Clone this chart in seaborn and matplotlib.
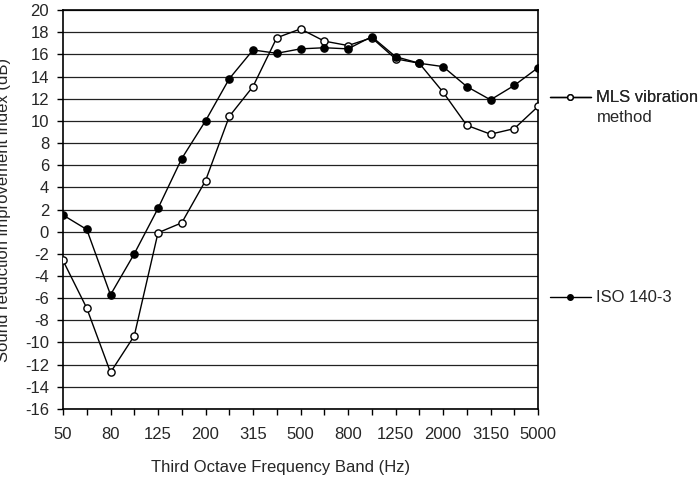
import numpy as np
import pandas as pd
import matplotlib
matplotlib.use("Agg")
import matplotlib.pyplot as plt
import seaborn as sns
from matplotlib.lines import Line2D

bands = ["50", "63", "80", "100", "125", "160", "200", "250", "315", "400", "500",
         "630", "800", "1000", "1250", "1600", "2000", "2500", "3150", "4000", "5000"]
mls = [-2.6, -6.9, -12.7, -9.4, -0.1, 0.8, 4.6, 10.4, 13.1, 17.5, 18.3,
       17.2, 16.8, 17.5, 15.6, 15.2, 12.6, 9.6, 8.8, 9.3, 11.3]
iso = [1.5, 0.2, -5.7, -2.0, 2.1, 6.6, 10.0, 13.8, 16.4, 16.1, 16.5,
       16.6, 16.5, 17.6, 15.8, 15.2, 14.9, 13.1, 11.9, 13.2, 14.8]
series_names = ["MLS vibration\nmethod", "ISO 140-3"]
yticks = list(range(-16, 21, 2))

sns.set_theme(style="white")
plt.rcParams["font.family"] = ["Liberation Sans", "DejaVu Sans"]
FS = 12

pos = np.arange(len(bands))
df = pd.DataFrame({
    "pos": np.concatenate([pos, pos]),
    "value": mls + iso,
    "series": [series_names[0]] * len(bands) + [series_names[1]] * len(bands),
})

fig = plt.figure(figsize=(7, 4.8), dpi=100)
ax = fig.add_axes([0.09, 0.148, 0.6786, 0.831])

for y in yticks:
    ax.axhline(y, color="#222222", lw=0.9, zorder=0)

sns.lineplot(data=df[df.series == series_names[0]], x="pos", y="value", ax=ax,
             color="black", lw=1.0, marker="o", markersize=5.2,
             markerfacecolor="white", markeredgecolor="black", markeredgewidth=1.0,
             legend=False, zorder=3)
sns.lineplot(data=df[df.series == series_names[1]], x="pos", y="value", ax=ax,
             color="black", lw=1.0, marker="o", markersize=5.2,
             markerfacecolor="black", markeredgecolor="black", markeredgewidth=1.0,
             legend=False, zorder=4)

ax.set_xlim(0, len(bands) - 1)
ax.set_ylim(-16, 20)
ax.set_yticks(yticks)
ax.set_yticklabels([str(v) for v in yticks], fontsize=FS)
ax.set_xticks(pos)
ax.set_xticklabels([b if i % 2 == 0 else "" for i, b in enumerate(bands)], fontsize=FS)
ax.tick_params(axis="both", direction="out", length=4, width=1, color="black",
               bottom=True, left=True)
ax.tick_params(axis="x", pad=9)
ax.tick_params(axis="y", pad=6)
ax.set_xlabel("Third Octave Frequency Band (Hz)", fontsize=FS, labelpad=13, x=0.457)
ax.set_ylabel("Sound reduction improvement index (dB)", fontsize=FS, labelpad=10)
for s in ax.spines.values():
    s.set_color("black")
    s.set_linewidth(1.2)

h1 = Line2D([], [], color="black", lw=1, marker="o", markersize=4,
            markerfacecolor="white", markeredgecolor="black")
h2 = Line2D([], [], color="black", lw=1, marker="o", markersize=4,
            markerfacecolor="black", markeredgecolor="black")
first, second = series_names[0].split("\n")
leg1 = fig.legend(handles=[h1], labels=[first], loc="center left",
                  bbox_to_anchor=(0.785, 1 - 98 / 480), frameon=False, fontsize=FS,
                  handlelength=2.5, handletextpad=0.3, borderaxespad=0, borderpad=0)
fig.text(597 / 700, 1 - 118 / 480, second, fontsize=FS, va="center", ha="left")
fig.legend(handles=[h2], labels=[series_names[1]], loc="center left",
           bbox_to_anchor=(0.785, 1 - 298 / 480), frameon=False, fontsize=FS,
           handlelength=2.5, handletextpad=0.3, borderaxespad=0, borderpad=0)
fig.add_artist(leg1)

fig.savefig("out.png", dpi=100)
